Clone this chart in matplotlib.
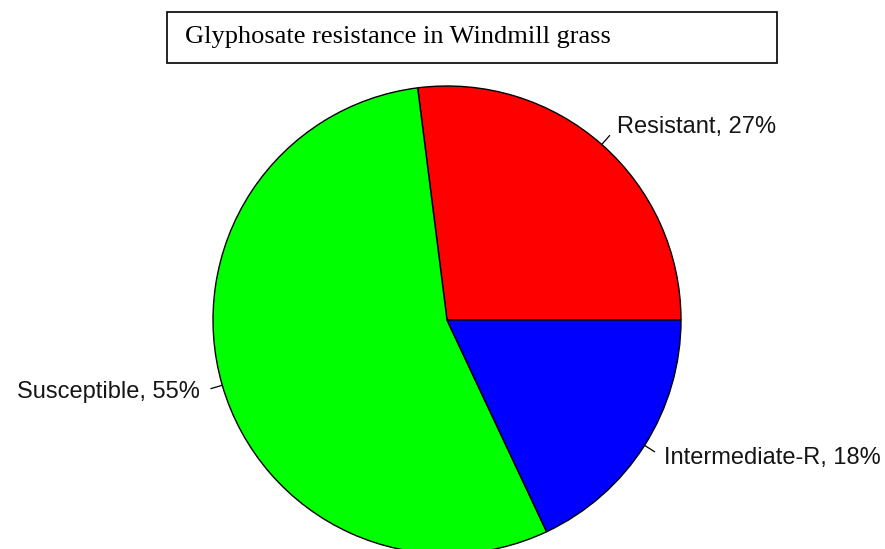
import numpy as np
import matplotlib.pyplot as plt

labels = ['Resistant', 'Susceptible', 'Intermediate-R']
percent = [27, 55, 18]
colors = ['#ff0000', '#00ff00', '#0000ff']
title = 'Glyphosate resistance in Windmill grass'


def do_plot():
    fig = plt.figure(figsize=(8.85, 5.49), dpi=100)
    ax = fig.add_axes([0, 0, 1, 1])

    cx, cy, r = 447, 229, 234
    ax.pie(percent, colors=colors, startangle=0, counterclock=True,
           center=(cx, cy), radius=r, frame=True,
           wedgeprops=dict(edgecolor='black', linewidth=1.0))
    ax.set_xlim(0, 885)
    ax.set_ylim(0, 549)
    ax.set_aspect('equal')
    ax.axis('off')

    # R style labels: tick from 1.0 to 1.05 radius, text at 1.1
    start = 0.0
    total = float(sum(percent))
    for name, p in zip(labels, percent):
        mid = np.deg2rad(360 * (start + p / 2) / total)
        start += p
        c, s = np.cos(mid), np.sin(mid)
        ax.plot([cx + r * c, cx + 1.05 * r * c], [cy + r * s, cy + 1.05 * r * s],
                color='black', lw=0.9)
        ax.text(cx + 1.1 * r * c, cy + 1.1 * r * s, '%s, %d%%' % (name, p),
                ha='left' if c > 0 else 'right', va='center',
                fontsize=17, family='Liberation Sans', color='#151515')

    # boxed title
    ax.add_patch(plt.Rectangle((167, 549 - 63), 610, 51, fill=False,
                               edgecolor='black', lw=1.2))
    ax.text(185, 549 - 37.5, title, ha='left', va='center',
            fontsize=19, family='Liberation Serif')

    fig.savefig('out.png', dpi=100)


if __name__ == '__main__':
    do_plot()
